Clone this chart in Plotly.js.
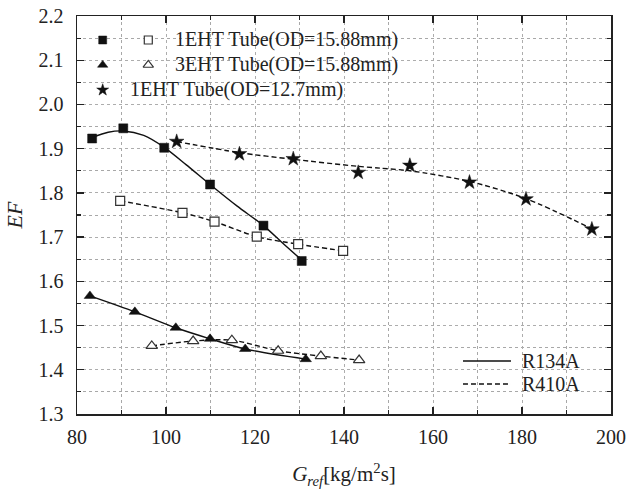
<!DOCTYPE html>
<html>
<head>
<meta charset="utf-8">
<script src="https://cdn.plot.ly/plotly-3.0.1.min.js"></script>
<style>html,body{margin:0;padding:0;background:#fff;}#chart{width:629px;height:489px;}</style>
</head>
<body>
<div id="chart"></div>
<script>
// 1EHT Tube (OD=15.88mm), R134A (solid squares)
const sq134X = [83.4, 90.4, 99.6, 109.9, 121.9, 130.5];
const sq134Y = [1.923, 1.946, 1.902, 1.819, 1.726, 1.646];
// 1EHT Tube (OD=15.88mm), R410A (open squares)
const sq410X = [89.7, 103.7, 110.9, 120.4, 129.7, 139.8];
const sq410Y = [1.782, 1.755, 1.735, 1.701, 1.684, 1.669];
// 3EHT Tube (OD=15.88mm), R134A (solid triangles)
const tr134X = [82.9, 93.0, 102.2, 109.9, 117.8, 131.4];
const tr134Y = [1.567, 1.531, 1.495, 1.470, 1.447, 1.424];
// 3EHT Tube (OD=15.88mm), R410A (open triangles)
const tr410X = [96.8, 106.1, 114.8, 125.2, 134.8, 143.4];
const tr410Y = [1.454, 1.465, 1.467, 1.443, 1.431, 1.422];
// 1EHT Tube (OD=12.7mm), R410A (stars)
const st410X = [102.4, 116.5, 128.6, 143.2, 154.8, 168.2, 180.9, 195.7];
const st410Y = [1.916, 1.888, 1.877, 1.846, 1.862, 1.824, 1.786, 1.718];
// solid trend line through the solid squares
const sqLineX = [83.4, 87.0, 90.4, 95.0, 99.6, 104.5, 109.9, 116.0, 121.9, 126.5, 130.5];
const sqLineY = [1.925, 1.937, 1.940, 1.930, 1.903, 1.864, 1.819, 1.770, 1.726, 1.684, 1.648];
// dashed trend line through the stars
const stLineX = [102.4, 116.5, 128.6, 143.2, 148.1, 154.8, 168.2, 180.9, 195.7];
const stLineY = [1.916, 1.891, 1.876, 1.860, 1.856, 1.850, 1.826, 1.787, 1.719];

// legend texts
const legendRows = ['1EHT Tube(OD=15.88mm)', '3EHT Tube(OD=15.88mm)', '1EHT Tube(OD=12.7mm)'];
const lineLegend = ['R134A', 'R410A'];

const FONT = 'Liberation Serif';
const INK = '#111';

function lineTrace(x, y, dash) {
  return {x: x, y: y, type: 'scatter', mode: 'lines', hoverinfo: 'skip',
    line: {color: INK, width: 1.4, dash: dash, shape: 'spline', smoothing: 0.8}, showlegend: false};
}
function markTrace(x, y, symbol, size, open) {
  return {x: x, y: y, type: 'scatter', mode: 'markers', showlegend: false, cliponaxis: false,
    marker: {symbol: symbol, size: size, color: open ? '#fff' : INK,
      line: {color: open ? '#333' : INK, width: open ? 1.2 : 0.5}}};
}

const data = [
  lineTrace(sqLineX, sqLineY, 'solid'),
  lineTrace(sq410X, sq410Y, '5px,3px'),
  lineTrace(tr134X, tr134Y, 'solid'),
  lineTrace(tr410X, tr410Y, '5px,3px'),
  lineTrace(stLineX, stLineY, '5px,3px'),
  markTrace(sq134X, sq134Y, 'square', 9, false),
  markTrace(sq410X, sq410Y, 'square', 9, true),
  markTrace(tr134X, tr134Y, 'triangle-up', 10, false),
  markTrace(tr410X, tr410Y, 'triangle-up', 10, true),
  markTrace(st410X, st410Y, 'star', 11, false)
];

// legend symbols on an overlay [0,1] axis pair
const legY = [0.9397, 0.8769, 0.8141];
const legSym1 = 0.0481, legSym2 = 0.1335;
function legMark(x, y, symbol, size, open) {
  const t = markTrace([x], [y], symbol, size, open);
  t.xaxis = 'x2'; t.yaxis = 'y2';
  return t;
}
data.push(legMark(legSym1, legY[0], 'square', 8, false));
data.push(legMark(legSym2, legY[0], 'square', 8, true));
data.push(legMark(legSym1, legY[1], 'triangle-up', 9, false));
data.push(legMark(legSym2, legY[1], 'triangle-up', 9, true));
data.push(legMark(legSym1, legY[2], 'star', 9, false));

const annFont = {family: FONT, size: 20, color: '#222'};
const annotations = [
  {xref: 'paper', yref: 'paper', x: 0.1803, y: legY[0], text: legendRows[0], showarrow: false, xanchor: 'left', yanchor: 'middle', font: annFont},
  {xref: 'paper', yref: 'paper', x: 0.1803, y: legY[1], text: legendRows[1], showarrow: false, xanchor: 'left', yanchor: 'middle', font: annFont},
  {xref: 'paper', yref: 'paper', x: 0.0961, y: legY[2], text: legendRows[2], showarrow: false, xanchor: 'left', yanchor: 'middle', font: annFont},
  {xref: 'paper', yref: 'paper', x: 0.8296, y: 0.1332, text: lineLegend[0], showarrow: false, xanchor: 'left', yanchor: 'middle', font: annFont},
  {xref: 'paper', yref: 'paper', x: 0.8296, y: 0.0754, text: lineLegend[1], showarrow: false, xanchor: 'left', yanchor: 'middle', font: annFont}
];
const shapes = [
  {type: 'line', xref: 'paper', yref: 'paper', x0: 0.7228, x1: 0.8127, y0: 0.1332, y1: 0.1332, line: {color: INK, width: 1.4}},
  {type: 'line', xref: 'paper', yref: 'paper', x0: 0.7228, x1: 0.8127, y0: 0.0754, y1: 0.0754, line: {color: INK, width: 1.4, dash: '5px,3px'}}
];

const gridCol = '#adadad';
const minorGridCol = '#a8a8a8';
const layout = {
  width: 629, height: 489,
  margin: {l: 77, r: 18, t: 16, b: 75},
  paper_bgcolor: '#fff', plot_bgcolor: '#fff',
  font: {family: FONT, size: 20, color: '#222'},
  showlegend: false,
  xaxis: {
    range: [80, 200], dtick: 20, tick0: 80,
    showline: true, linecolor: '#222', linewidth: 1.5, mirror: 'ticks',
    ticks: 'inside', ticklen: 7, tickwidth: 1.3, tickcolor: '#222',
    showgrid: true, gridcolor: gridCol, griddash: 'dot', gridwidth: 1,
    zeroline: false, ticklabelstandoff: 4,
    tickfont: {family: FONT, size: 20, color: '#222'},
    minor: {dtick: 10, ticks: 'inside', ticklen: 4, tickwidth: 1.2, tickcolor: '#222',
      showgrid: true, gridcolor: minorGridCol, griddash: 'dot', gridwidth: 1},
    title: {text: '<i>G</i><sub><i>ref</i></sub>[kg/m<sup>2</sup>s]', font: {family: FONT, size: 21, color: '#222'}, standoff: 20}
  },
  yaxis: {
    range: [1.3, 2.2], dtick: 0.1, tick0: 1.3, tickformat: '.1f',
    showline: true, linecolor: '#222', linewidth: 1.5, mirror: 'ticks',
    ticks: 'inside', ticklen: 7, tickwidth: 1.3, tickcolor: '#222',
    showgrid: true, gridcolor: gridCol, griddash: 'dot', gridwidth: 1,
    zeroline: false, ticklabelstandoff: 8,
    tickfont: {family: FONT, size: 20, color: '#222'},
    minor: {dtick: 0.05, ticks: 'inside', ticklen: 4, tickwidth: 1.2, tickcolor: '#222',
      showgrid: true, gridcolor: minorGridCol, griddash: 'dot', gridwidth: 1},
    title: {text: '<i>EF</i>', font: {family: FONT, size: 22, color: '#222'}, standoff: 10}
  },
  xaxis2: {overlaying: 'x', anchor: 'y2', range: [0, 1], visible: false, fixedrange: true},
  yaxis2: {overlaying: 'y', anchor: 'x2', range: [0, 1], visible: false, fixedrange: true},
  annotations: annotations,
  shapes: shapes
};

Plotly.newPlot('chart', data, layout, {displayModeBar: false, staticPlot: true});
</script>
</body>
</html>
